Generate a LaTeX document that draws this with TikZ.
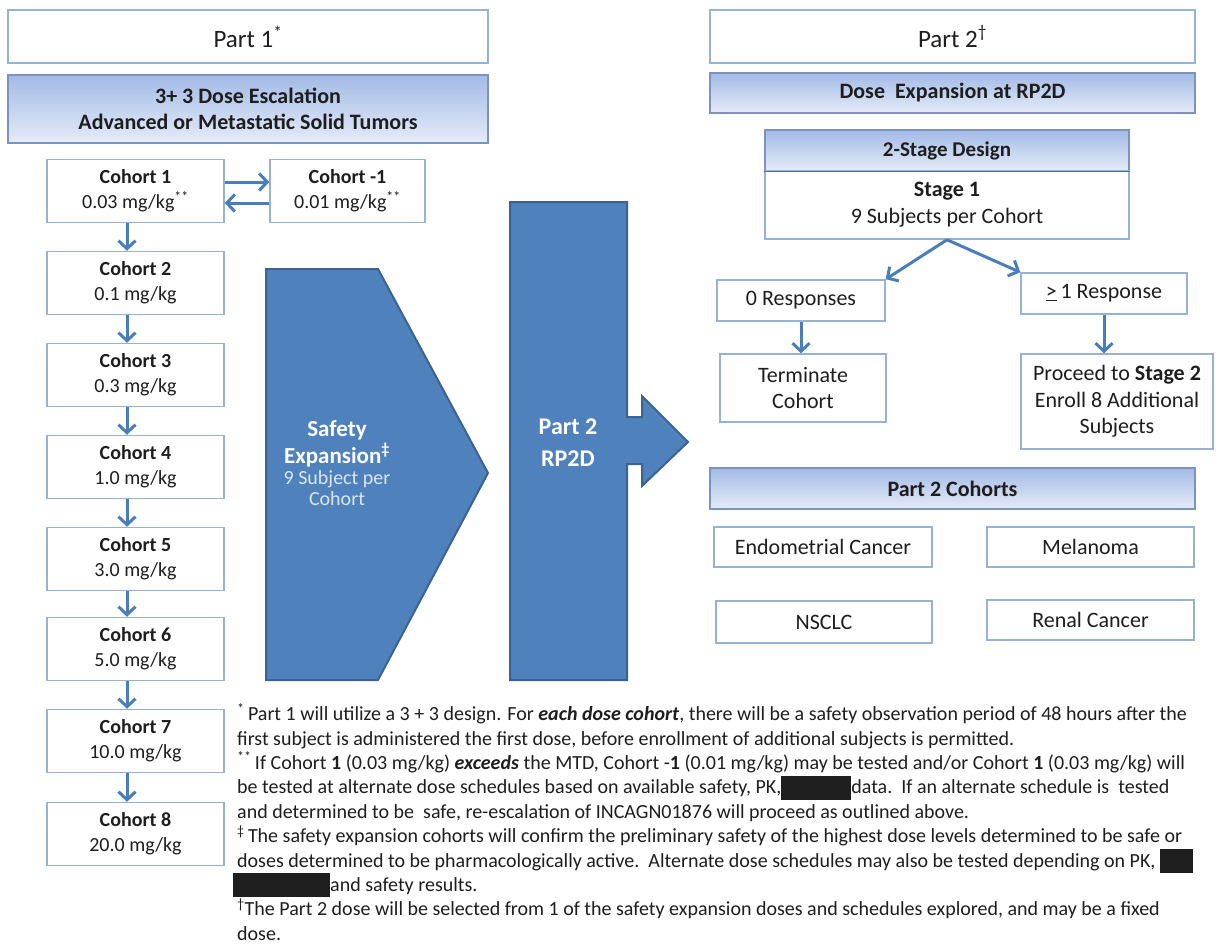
\documentclass[tikz,border=0pt]{standalone}
\usepackage{fontspec}
\setmainfont{Carlito}
\usetikzlibrary{arrows.meta}
\definecolor{bord}{HTML}{95B3D7}
\definecolor{bandtop}{HTML}{A3BAE6}
\definecolor{bandbot}{HTML}{E5ECF8}
\definecolor{bandbord}{HTML}{7A93BF}
\definecolor{hdrline}{HTML}{4F6E9E}
\definecolor{bigblue}{HTML}{4F81BD}
\definecolor{bigbord}{HTML}{3A6391}
\definecolor{arr}{HTML}{4A7EBB}
\definecolor{paletxt}{HTML}{DCE6F2}
\definecolor{txt}{HTML}{1E1E1E}
\tikzset{
  wbox/.style={draw=bord, line width=1.5pt, fill=white, inner sep=0pt, align=center, text=txt},
  band/.style={draw=bandbord, line width=1.2pt, top color=bandtop, bottom color=bandbot, inner sep=0pt, align=center, text=txt, font=\bfseries\fontsize{22}{26}\selectfont},
  cohort/.style={wbox, minimum width=177pt, minimum height=63pt, font=\fontsize{20}{25}\selectfont},
  small/.style={wbox, font=\fontsize{22}{26.5}\selectfont},
  conn/.style={draw=arr, line width=3pt, -{Straight Barb[length=8pt,width=17pt,line width=3pt]}},
  big/.style={fill=bigblue, draw=bigbord, line width=2pt},
}
\begin{document}
\begin{tikzpicture}[x=1pt,y=-1pt]
\useasboundingbox (0,0) rectangle (1216,943);
\fill[white] (0,0) rectangle (1216,943);

% Part 1 header
\node[wbox, minimum width=480pt, minimum height=53pt, font=\fontsize{25}{30}\selectfont] (p1) at (248,36.5) {Part 1\textsuperscript{*}};
\node[band, minimum width=480pt, minimum height=68pt] (b1) at (248,109) {3+ 3 Dose Escalation\\Advanced or Metastatic Solid Tumors};

% Cohorts
\node[cohort] (c1) at (135.5,191) {\textbf{Cohort 1}\\0.03 mg/kg\textsuperscript{**}};
\node[cohort, minimum width=155pt] (cm1) at (347.5,191) {\textbf{Cohort -1}\\0.01 mg/kg\textsuperscript{**}};
\node[cohort] (c2) at (135.5,283) {\textbf{Cohort 2}\\0.1 mg/kg};
\node[cohort] (c3) at (135.5,375) {\textbf{Cohort 3}\\0.3 mg/kg};
\node[cohort] (c4) at (135.5,467) {\textbf{Cohort 4}\\1.0 mg/kg};
\node[cohort] (c5) at (135.5,559) {\textbf{Cohort 5}\\3.0 mg/kg};
\node[cohort] (c6) at (135.5,649) {\textbf{Cohort 6}\\5.0 mg/kg};
\node[cohort] (c7) at (135.5,741) {\textbf{Cohort 7}\\10.0 mg/kg};
\node[cohort] (c8) at (135.5,834) {\textbf{Cohort 8}\\20.0 mg/kg};

\coordinate (ax) at (127,0);
\coordinate (ya) at (0,182);
\coordinate (yb) at (0,203);
\draw[conn] (c1.east |- ya) -- (cm1.west |- ya);
\draw[conn] (cm1.west |- yb) -- (c1.east |- yb);
\foreach \a/\b in {c1/c2,c2/c3,c3/c4,c4/c5,c5/c6,c6/c7,c7/c8}
  \draw[conn] (\a.south -| ax) -- (\b.north -| ax);

% Safety expansion chevron
\draw[big] (266,269) -- (378,269) -- (488,473) -- (378,680) -- (266,680) -- cycle;
\node[text=white, align=center, font=\bfseries\fontsize{23}{27}\selectfont] (saf) at (337,463)
  {Safety\\Expansion\textsuperscript{‡}\\[-6pt]{\mdseries\fontsize{20}{21}\selectfont\color{paletxt}9 Subject per}\\[-6pt]{\mdseries\fontsize{20}{21}\selectfont\color{paletxt}Cohort}};

% Part 2 RP2D arrow
\draw[big] (510,202) -- (627,202) -- (627,417) -- (642,417) -- (642,396) -- (688,442) -- (642,486) -- (642,464) -- (627,464) -- (627,680) -- (510,680) -- cycle;
\node[text=white, align=center, font=\bfseries\fontsize{24}{32}\selectfont] (p2t) at (568,443) {Part 2\\RP2D};

% Part 2 header
\node[wbox, minimum width=485pt, minimum height=53pt, font=\fontsize{25}{30}\selectfont] (p2) at (952.5,36.5) {Part 2\textsuperscript{†}};
\node[band, minimum width=485pt, minimum height=40pt] (b2) at (952.5,93) {Dose\ \ Expansion at RP2D};

% 2-stage design
\node[band, minimum width=364pt, minimum height=41pt, font=\bfseries\fontsize{21}{25}\selectfont] (hdr) at (947,150.5) {2-Stage Design};
\node[wbox, minimum width=364pt, minimum height=68pt, font=\fontsize{22}{27}\selectfont] (st1) at (947,205) {\textbf{Stage 1}\\9 Subjects per Cohort};
\draw[hdrline, line width=1.5pt] (hdr.south west) -- (hdr.south east);

\node[small, minimum width=168pt, minimum height=41pt] (r0) at (801,300.5) {0 Responses};
\node[small, minimum width=166pt, minimum height=41pt] (r1) at (1104,293.5) {\underline{>}\,1 Response};
\node[small, minimum width=166pt, minimum height=68pt] (term) at (803,388) {Terminate\\Cohort};
\node[small, minimum width=192pt, minimum height=95pt] (pro) at (1117,401.5) {Proceed to \textbf{Stage 2}\\Enroll 8 Additional\\Subjects};

\draw[conn] (st1.south) -- (r0.north east);
\draw[conn] (st1.south) -- (r1.north west);
\draw[conn] (r0.south) -- (r0.south |- term.north);
\draw[conn] (r1.south) -- (r1.south |- pro.north);

% Part 2 cohorts
\node[band, minimum width=485pt, minimum height=41pt] (b3) at (952.5,488.5) {Part 2 Cohorts};
\node[small, minimum width=218pt, minimum height=40pt] (endo) at (823,547) {Endometrial Cancer};
\node[small, minimum width=207pt, minimum height=40pt] (mela) at (1090.5,547) {Melanoma};
\node[small, minimum width=216pt, minimum height=42pt] (nsclc) at (824,622) {NSCLC};
\node[small, minimum width=207pt, minimum height=40pt] (renal) at (1090.5,620) {Renal Cancer};

% Footnotes
\node[anchor=north west, inner sep=0pt, align=left, text=txt, font=\fontsize{20}{24.4}\selectfont] (fn) at (237,703) {%
\textsuperscript{*}\,Part 1 will utilize a 3 + 3 design. For \textbf{\textit{each dose cohort}}, there will be a safety observation period of 48 hours after the\\
first subject is administered the first dose, before enrollment of additional subjects is permitted.\\
\textsuperscript{**}\,If Cohort \textbf{1} (0.03 mg/kg) \textbf{\textit{exceeds}} the MTD, Cohort -\textbf{1} (0.01 mg/kg) may be tested and/or Cohort \textbf{1} (0.03 mg/kg) will\\
be tested at alternate dose schedules based on available safety, PK,\rule[-6pt]{70pt}{24pt}data.\ \ If an alternate schedule is\ \ tested\\
and determined to be\ \ safe, re-escalation of INCAGN01876 will proceed as outlined above.\\
\textsuperscript{‡}\,The safety expansion cohorts will confirm the preliminary safety of the highest dose levels determined to be safe or\\
doses determined to be pharmacologically active.\ \ Alternate dose schedules may also be tested depending on PK,\ \rule[-6pt]{33pt}{24pt}\\
\hspace*{-4pt}\rule[-6pt]{97pt}{24pt}and safety results.\\
\textsuperscript{†}The Part 2 dose will be selected from 1 of the safety expansion doses and schedules explored, and may be a fixed\\
dose.};
\end{tikzpicture}
\end{document}
